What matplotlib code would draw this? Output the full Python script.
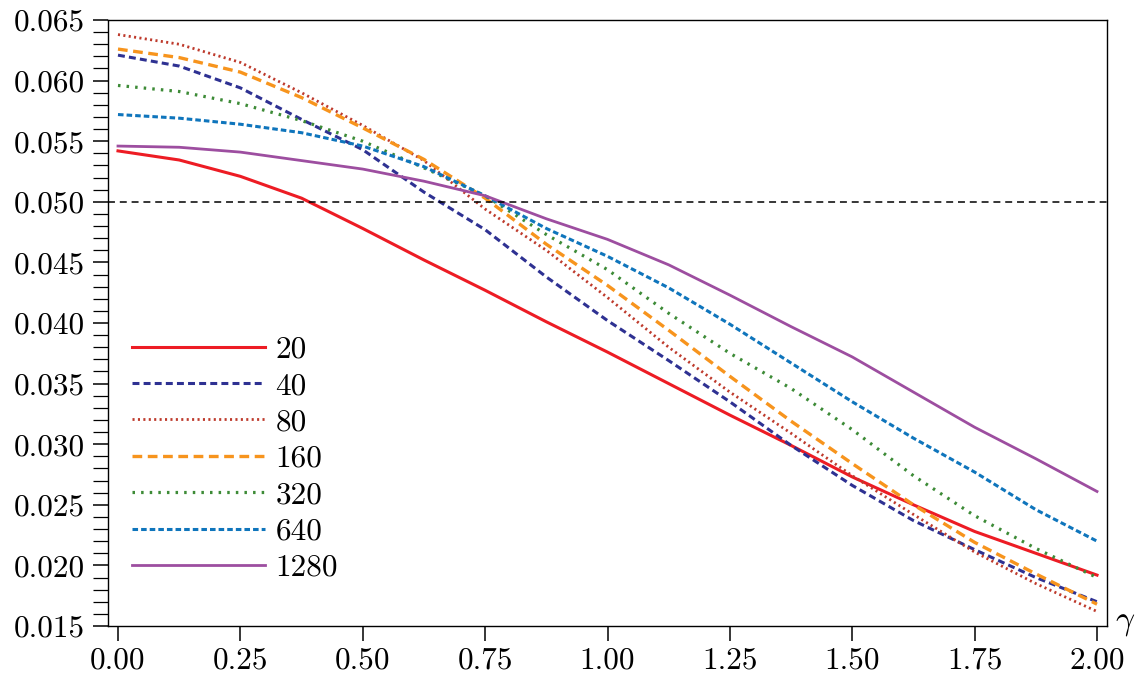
import matplotlib
matplotlib.use("Agg")
import matplotlib.pyplot as plt
from matplotlib.ticker import MultipleLocator, FormatStrFormatter

plt.rcParams['font.family'] = 'serif'
plt.rcParams['font.serif'] = ['cmr10', 'DejaVu Serif']
plt.rcParams['mathtext.fontset'] = 'cm'
plt.rcParams['lines.scale_dashes'] = False
plt.rcParams['axes.unicode_minus'] = False

gamma = [0.0, 0.125, 0.25, 0.375, 0.5, 0.625, 0.75, 0.875, 1.0,
         1.125, 1.25, 1.375, 1.5, 1.625, 1.75, 1.875, 2.0]

n20 = [0.0542, 0.05345, 0.0521, 0.0503, 0.0478, 0.0452, 0.0427, 0.0401, 0.0376,
       0.0350, 0.0324, 0.0299, 0.0273, 0.0250, 0.0228, 0.0210, 0.0192]
n40 = [0.0621, 0.0612, 0.0594, 0.0568, 0.0543, 0.0508, 0.0477, 0.0438, 0.0402,
       0.0369, 0.0335, 0.0299, 0.0266, 0.0237, 0.0213, 0.0190, 0.0170]
n80 = [0.0638, 0.0630, 0.0615, 0.0590, 0.0563, 0.0534, 0.0494, 0.0460, 0.0421,
       0.0380, 0.0343, 0.0309, 0.0274, 0.0242, 0.0211, 0.0185, 0.0162]
n160 = [0.0626, 0.0619, 0.0607, 0.0586, 0.0561, 0.0535, 0.0503, 0.0465, 0.0431,
        0.0394, 0.0356, 0.0319, 0.0284, 0.0250, 0.0219, 0.0193, 0.0168]
n320 = [0.0596, 0.0591, 0.0581, 0.0567, 0.0550, 0.0528, 0.0505, 0.0473, 0.0444,
        0.0408, 0.0375, 0.0346, 0.0312, 0.0274, 0.0241, 0.0214, 0.0190]
n640 = [0.0572, 0.0569, 0.0564, 0.0557, 0.0546, 0.0529, 0.0505, 0.0478, 0.0455,
        0.0429, 0.0399, 0.0367, 0.0335, 0.0305, 0.0277, 0.0246, 0.0220]
n1280 = [0.0546, 0.0545, 0.0541, 0.0534, 0.0527, 0.0517, 0.0505, 0.0486, 0.0469,
         0.0448, 0.0423, 0.0397, 0.0372, 0.0343, 0.0314, 0.0288, 0.0261]

labels = ['20', '40', '80', '160', '320', '640', '1280']
series = [n20, n40, n80, n160, n320, n640, n1280]
colors = ['#ed1c24', '#2e3192', '#be3a2c', '#f7941d', '#3d8b37', '#0f75bc', '#9d4ea0']
styles = [
    dict(lw=2.2, ls='-'),
    dict(lw=2.2, ls=(0, (5.0, 3.0))),
    dict(lw=2.0, ls=(0, (1.5, 2.4))),
    dict(lw=2.4, ls=(0, (7.0, 4.0))),
    dict(lw=2.3, ls=(0, (1.8, 4.4))),
    dict(lw=2.2, ls=(0, (4.0, 2.2))),
    dict(lw=2.0, ls='-'),
]

fig = plt.figure(figsize=(11.42, 6.79), dpi=100)
ax = fig.add_axes([108/1142, 1 - 626/679, (1107-108)/1142, (626-20)/679])

for y, lab, c, st in zip(series, labels, colors, styles):
    ax.plot(gamma, y, color=c, label=lab, **st)

ax.axhline(0.05, color='black', lw=1.1, ls=(0, (5.0, 3.5)))

ax.set_xlim(-0.0204, 2.0204)
ax.set_ylim(0.015, 0.065)
ax.xaxis.set_major_locator(MultipleLocator(0.25))
ax.xaxis.set_major_formatter(FormatStrFormatter('%.2f'))
ax.yaxis.set_major_locator(MultipleLocator(0.005))
ax.yaxis.set_minor_locator(MultipleLocator(0.001))
ax.yaxis.set_major_formatter(FormatStrFormatter('%.3f'))

ax.tick_params(axis='both', which='major', direction='out', length=10.5, width=1.1,
               labelsize=22.5, pad=4)
ax.tick_params(axis='y', which='minor', direction='out', length=10.5, width=0.9)
ax.tick_params(axis='y', which='major', pad=6)
for s in ax.spines.values():
    s.set_linewidth(1.0)

ax.annotate(r'$\gamma$', xy=(1.0, 0.0), xycoords='axes fraction',
            xytext=(6, 2), textcoords='offset points', fontsize=24,
            ha='left', va='center')

leg = ax.legend(loc='upper left', bbox_to_anchor=(0.024, 0.479), frameon=False,
                fontsize=22.5, handlelength=4.27, handletextpad=0.32,
                labelspacing=0.27, borderpad=0, borderaxespad=0)

fig.savefig('out.png', dpi=100)
